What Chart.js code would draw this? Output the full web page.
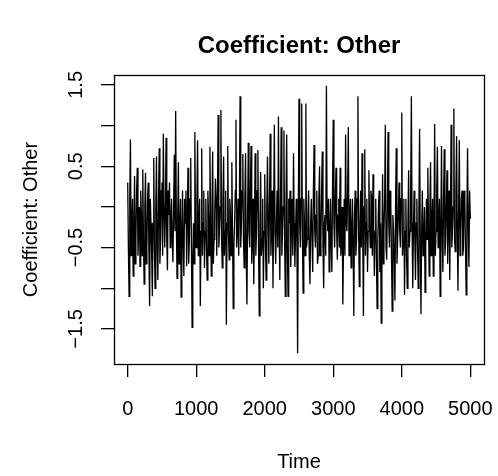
<!doctype html>
<html lang="en">
    <head>
        <meta charset="utf-8">
        <title>Coefficient: Other</title>
        <script src="https://cdn.jsdelivr.net/npm/chart.js@4.4.1/dist/chart.umd.min.js"></script>
        <style>
            body { margin: 0; background: #fff; }
            #traceChart { display: block; }
        </style>
    </head>

    <body>
        <canvas id="traceChart" width="498" height="476"></canvas>
        <script type="text/javascript">

            // trace of the sampler, one value every 10 iterations
            var timeStart = 0;
            var timeStep = 10;
            var traceValues = [
                0.3, -0.5, -1.1, 0.1, 0.83, -0.6, -0.2, 0.1, -0.85, -0.3, 0.38, -0.7, -0.4, 0.2, 0.48, -0.6, -0.3, 0.0, -0.73, 0.2,
                -0.1, -0.6, 0.46, -0.4, -0.95, 0.0, 0.42, -0.7, -0.5, 0.1, 0.3, -0.6, -1.22, 0.1, -0.2, -0.6, -1.1, -0.2, 0.6, -0.5,
                -1.0, 0.0, 0.62, -0.5, -0.9, 0.1, 0.72, -0.7, -0.4, 0.2, 0.3, -0.6, 0.9, 0.0, -0.5, -0.1, 0.85, -0.4, -0.78, 0.2,
                -0.1, 0.3, -0.5, -0.2, 0.1, -0.4, -0.68, 0.0, 0.64, -0.3, 1.18, -0.2, -0.88, -0.1, 0.55, -0.7, -0.3, 0.1, -1.11, -0.4,
                0.2, -0.5, -0.85, 0.1, -0.2, 0.2, -0.73, -0.1, 0.48, -0.7, -0.4, 0.1, 0.6, -0.5, -1.48, -0.6, -0.2, -0.7, 0.92, -0.3,
                -0.5, 0.1, 0.82, -0.6, -0.3, 0.1, -1.22, -0.3, 0.72, -0.6, -0.2, 0.2, -0.75, -0.3, 0.1, -0.5, -0.9, 0.2, -0.1, -0.6,
                0.74, -0.2, -0.85, 0.0, 0.68, -0.7, -0.4, -0.1, 0.35, 0.1, -0.6, 0.2, 1.13, -0.5, -0.3, 0.0, 1.19, -0.4, -0.75, 0.1,
                0.62, -0.6, -0.3, 0.2, -1.45, -0.2, 0.75, -0.3, -0.65, 0.1, -0.1, -0.6, 0.55, -0.3, -1.25, -0.5, -0.2, 0.2, 1.07, -0.5,
                -0.3, 0.1, -0.6, 0.0, 1.36, -0.5, -0.2, 0.2, 0.65, -0.4, -0.75, 0.1, 0.66, -0.6, -1.2, -0.1, 0.79, -0.3, -0.5, 0.2,
                0.75, -0.7, -0.4, 0.1, -0.95, -0.2, 0.66, -0.6, -0.3, 0.2, 0.7, -0.5, -1.34, -0.2, 0.43, -0.6, -0.4, 0.1, -1.0, -0.3,
                0.4, -0.4, -0.9, 0.0, 0.62, -0.2, -0.7, 0.1, 0.9, -0.6, -0.3, 0.2, -1.0, -0.1, 1.01, -0.3, -0.7, -0.2, 0.2, -0.5,
                1.11, -0.3, -0.9, 0.1, 0.98, -0.6, -0.3, 0.0, 0.94, -0.4, -1.1, 0.0, 0.89, -0.5, -1.1, 0.1, -0.2, 0.2, -0.74, -0.2,
                0.1, -0.6, 0.66, -0.2, -0.74, -0.3, 0.1, -0.5, -1.8, 0.0, 1.33, -0.2, -0.5, 0.1, 1.27, -0.4, -1.06, 0.1, -0.2, -0.6,
                1.27, -0.5, -0.4, -0.1, 0.2, -0.6, -0.95, -0.2, 0.1, -0.4, -0.8, 0.2, 0.76, -0.3, -0.5, -0.1, 0.2, -0.7, -0.6, 0.1,
                0.5, -0.6, -0.4, 0.2, 0.68, -0.5, -1.0, -0.2, -0.1, -0.6, 1.49, -0.1, -0.3, 0.1, -0.8, -0.3, 0.1, -0.5, -0.8, 0.3,
                1.07, -0.2, -0.5, 0.1, 0.48, -0.3, -0.65, -0.1, 0.1, -0.5, 0.48, -0.6, -0.4, 0.0, -1.2, -0.4, 0.1, -0.6, 0.89, -0.2,
                -0.3, 0.2, 0.98, -0.6, -0.2, 0.1, -0.75, -0.3, 0.1, -0.5, -1.34, -0.1, 0.2, -0.6, -0.4, 0.1, 1.36, -0.3, -0.98, -0.2,
                0.2, -0.5, 0.66, -0.3, -1.34, 0.0, 0.71, -0.6, -0.2, 0.1, -0.8, -0.3, 0.45, -0.2, -0.5, 0.2, 0.1, -0.6, 0.4, -0.3,
                -0.85, -0.3, 0.1, -0.6, -1.25, -0.4, 0.0, 0.2, -0.8, -0.2, -1.43, -0.5, 0.4, -0.7, -0.3, 0.1, 1.01, -0.5, -0.65, 0.0,
                0.92, -0.2, -0.5, 0.2, 0.0, -0.6, -1.28, -0.1, -0.3, -0.6, -1.15, 0.1, 0.72, -0.7, -0.4, -0.1, 0.3, -0.3, -0.5, 0.1,
                1.16, -0.6, -0.4, 0.1, -1.08, -0.3, 0.1, -0.6, -1.0, -0.2, 0.45, -0.5, -0.3, 0.2, 1.36, -0.2, -1.0, -0.3, 0.2, -0.4,
                -0.9, -0.2, 0.1, -0.5, -1.0, 0.0, 0.96, -0.4, -1.32, -0.3, 0.2, -0.6, -0.4, 0.0, -1.05, -0.5, 0.1, -0.4, 0.48, -0.2,
                -0.85, 0.0, 0.55, -0.6, -0.2, 0.1, -0.85, -0.2, 1.02, -0.6, -0.3, 0.2, 0.74, -0.5, -0.2, 0.1, -1.1, -0.3, 0.75, -0.4,
                -0.8, 0.1, 0.71, -0.6, -0.4, 0.0, 0.45, -0.7, -0.2, 0.2, -0.9, -0.1, 1.01, -0.5, -0.3, 0.0, 1.21, -0.4, -0.55, 0.2,
                0.87, -0.3, -1.03, 0.0, 0.82, -0.6, -0.3, 0.1, 0.2, -0.6, -0.5, 0.2, 0.1, -0.5, -1.08, -0.1, 0.72, -0.3, -0.74, 0.2,
                -0.15
            ];

            var xTicks = [0, 1000, 2000, 3000, 4000, 5000];
            var xTickLabels = ["0", "1000", "2000", "3000", "4000", "5000"];
            var yTicks = [-1.5, -1, -0.5, 0, 0.5, 1, 1.5];
            var yTickLabels = ["\u22121.5", "", "\u22120.5", "", "0.5", "", "1.5"];

            var mainTitle = "Coefficient: Other";
            var xTitle = "Time";
            var yTitle = "Coefficient: Other";

            var fontFamily = "'Liberation Sans', Arial, Helvetica, sans-serif";

            var points = traceValues.map(function(v, i) {
                return { x: timeStart + i * timeStep, y: v };
            });

            // R style axis range: data range plus 4% each side
            function rRange(lo, hi) {
                var ext = (hi - lo) * 0.04;
                return [lo - ext, hi + ext];
            }
            var xr = rRange(timeStart, timeStart + (traceValues.length - 1) * timeStep);
            var yr = rRange(Math.min.apply(null, traceValues), Math.max.apply(null, traceValues));

            // box, rotated tick labels and titles, drawn like base R graphics
            var rFrame = {
                id: "rFrame",
                afterDraw: function(chart) {
                    var ctx = chart.ctx;
                    var a = chart.chartArea;
                    var xs = chart.scales.x;
                    var ys = chart.scales.y;
                    ctx.save();
                    ctx.strokeStyle = "#000";
                    ctx.lineWidth = 1.3;
                    ctx.strokeRect(Math.round(a.left) + 0.5, Math.round(a.top) + 0.5,
                                   Math.round(a.right - a.left), Math.round(a.bottom - a.top));

                    ctx.fillStyle = "#000";
                    ctx.font = "bold 24px " + fontFamily;
                    ctx.textAlign = "center";
                    ctx.textBaseline = "alphabetic";
                    ctx.fillText(mainTitle, (a.left + a.right) / 2, 53);

                    ctx.font = "20px " + fontFamily;
                    for (var i = 0; i < xTicks.length; i++) {
                        ctx.fillText(xTickLabels[i], xs.getPixelForValue(xTicks[i]), 415);
                    }
                    ctx.fillText(xTitle, (a.left + a.right) / 2, 468);

                    for (var j = 0; j < yTicks.length; j++) {
                        if (!yTickLabels[j]) continue;
                        ctx.save();
                        ctx.translate(81.5, ys.getPixelForValue(yTicks[j]));
                        ctx.rotate(-Math.PI / 2);
                        ctx.fillText(yTickLabels[j], 0, 0);
                        ctx.restore();
                    }

                    ctx.save();
                    ctx.translate(37, (a.top + a.bottom) / 2);
                    ctx.rotate(-Math.PI / 2);
                    ctx.fillText(yTitle, 0, 0);
                    ctx.restore();
                    ctx.restore();
                }
            };

            var tickGrid = {
                drawOnChartArea: false,
                drawTicks: true,
                tickLength: 13,
                color: "#000",
                lineWidth: 1.3
            };

            var ctx = document.getElementById("traceChart").getContext("2d");
            var traceChart = new Chart(ctx, {
                type: "line",
                data: {
                    datasets: [{
                        data: points,
                        borderColor: "#000",
                        borderWidth: 1.3,
                        pointRadius: 0,
                        tension: 0,
                        fill: false
                    }]
                },
                options: {
                    responsive: false,
                    animation: false,
                    layout: { padding: { top: 75, right: 14, left: 0, bottom: 0 } },
                    plugins: {
                        legend: { display: false },
                        title: { display: false },
                        tooltip: { enabled: false }
                    },
                    scales: {
                        x: {
                            type: "linear",
                            min: xr[0],
                            max: xr[1],
                            afterBuildTicks: function(s) { s.ticks = xTicks.map(function(v) { return { value: v }; }); },
                            afterFit: function(s) { s.height = 112; },
                            ticks: { display: false },
                            grid: tickGrid,
                            border: { display: false }
                        },
                        y: {
                            type: "linear",
                            min: yr[0],
                            max: yr[1],
                            afterBuildTicks: function(s) { s.ticks = yTicks.map(function(v) { return { value: v }; }); },
                            afterFit: function(s) { s.width = 114; },
                            ticks: { display: false },
                            grid: tickGrid,
                            border: { display: false }
                        }
                    }
                },
                plugins: [rFrame]
            });
        </script>
    </body>
</html>
